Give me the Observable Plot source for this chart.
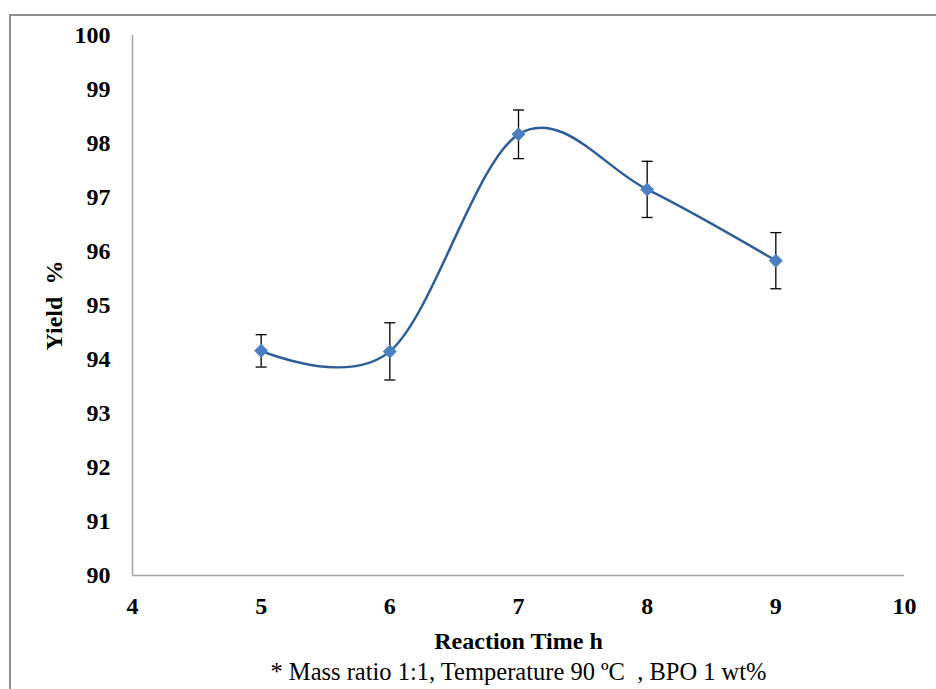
<!DOCTYPE html>
<html><head><meta charset="utf-8">
<script src="https://cdn.jsdelivr.net/npm/d3@7"></script>
<script src="https://cdn.jsdelivr.net/npm/@observablehq/plot@0.6"></script>
<style>
body{margin:0;background:#fff;overflow:hidden;}
#frame{position:absolute;left:9px;top:14px;width:2000px;height:2000px;border-top:2px solid #8e8e8e;border-left:2px solid #8e8e8e;z-index:2;pointer-events:none;}
#chart{position:absolute;left:0;top:0;z-index:1;}
#chart svg, #chart text{font-family:"Liberation Serif","Times New Roman",serif !important;}
</style></head><body>
<div id="chart"></div><div id="frame"></div>
<script>
const reactionTime = [5, 6, 7, 8, 9];
const yieldPct = [94.16, 94.15, 98.17, 97.15, 95.83];
const yieldErr = [0.30, 0.53, 0.45, 0.52, 0.52];
const xTicks = [4, 5, 6, 7, 8, 9, 10];
const yTicks = [90, 91, 92, 93, 94, 95, 96, 97, 98, 99, 100];
const xLabel = "Reaction Time h";
const yLabel = "Yield  %";
const caption = "* Mass ratio 1:1, Temperature 90 ºC  , BPO 1 wt%";

const data = reactionTime.map((t, i) => ({t, y: yieldPct[i], lo: yieldPct[i] - yieldErr[i], hi: yieldPct[i] + yieldErr[i]}));

const capSymbol = {draw(ctx) { ctx.moveTo(-5.5, 0); ctx.lineTo(5.5, 0); }};
const ff = "Liberation Serif";

const chart = Plot.plot({
  width: 936,
  height: 689,
  marginLeft: 132,
  marginRight: 32,
  marginTop: 35,
  marginBottom: 114,
  style: {fontFamily: ff, fontSize: "24px", color: "#000", background: "transparent"},
  x: {domain: [4, 10]},
  y: {domain: [90, 100]},
  marks: [
    Plot.axisY({ticks: yTicks, tickSize: 0, tickPadding: 22, label: null, fontWeight: "bold", fontSize: 24, fontFamily: ff, tickFormat: d => d}),
    Plot.axisX({ticks: xTicks, tickSize: 0, tickPadding: 21, label: null, fontWeight: "bold", fontSize: 24, fontFamily: ff, tickFormat: d => d}),
    Plot.ruleX([4], {stroke: "#a6a6a6", strokeWidth: 1.5}),
    Plot.ruleY([90], {stroke: "#a6a6a6", strokeWidth: 1.5}),
    Plot.line(data, {x: "t", y: "y", curve: "cardinal", stroke: "#2e5d98", strokeWidth: 2.5}),
    Plot.ruleX(data, {x: "t", y1: "lo", y2: "hi", stroke: "#000", strokeWidth: 1.3}),
    Plot.dot(data, {x: "t", y: "lo", symbol: capSymbol, stroke: "#000", strokeWidth: 1.3, fill: "none"}),
    Plot.dot(data, {x: "t", y: "hi", symbol: capSymbol, stroke: "#000", strokeWidth: 1.3, fill: "none"}),
    Plot.dot(data, {x: "t", y: "y", symbol: "diamond2", r: 6.3, fill: "#4a7fc1", stroke: "none"}),
    Plot.text([xLabel], {frameAnchor: "bottom", textAnchor: "middle", lineAnchor: "middle", dy: 66, fontWeight: "bold", fontSize: 24, fontFamily: ff}),
    Plot.text([caption], {frameAnchor: "bottom", textAnchor: "middle", lineAnchor: "middle", dy: 97, fontSize: 24.5, fontFamily: ff}),
    Plot.text([yLabel], {frameAnchor: "left", textAnchor: "middle", lineAnchor: "middle", dx: -78, rotate: -90, fontWeight: "bold", fontSize: 24, fontFamily: ff})
  ]
});
document.getElementById("chart").appendChild(chart);
</script>
</body></html>
